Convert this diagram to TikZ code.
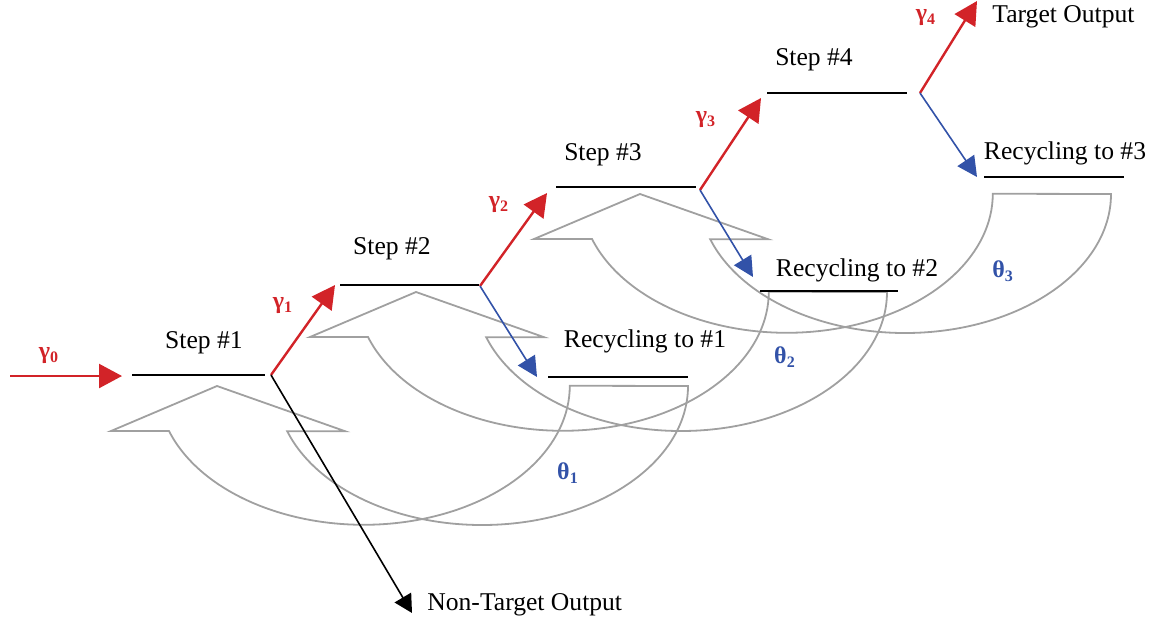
\documentclass[tikz,border=0pt]{standalone}
\usepackage{fontspec}
\setmainfont{Liberation Serif}
\usetikzlibrary{arrows.meta}

\definecolor{gainred}{RGB}{210,35,40}
\definecolor{recblue}{RGB}{50,82,168}
\definecolor{loopgray}{RGB}{160,160,160}

\tikzset{
  stage/.style={black, line width=1pt},
  gain/.style={gainred, line width=1.2pt, -{Triangle[length=11.5pt, width=12pt]}},
  recycled/.style={recblue, line width=0.8pt, -{Triangle[length=10pt, width=10pt]}},
  loss/.style={black, line width=0.8pt, -{Triangle[length=9pt, width=9.5pt]}},
  txt/.style={font=\fontsize{12.8}{15}\selectfont, inner sep=0pt, anchor=base},
  gamma/.style={font=\fontsize{12}{14}\selectfont\bfseries, text=gainred, inner sep=0pt},
  theta/.style={font=\fontsize{12}{14}\selectfont\bfseries, text=recblue, inner sep=0pt},
  recycle/.pic={
    \draw [loopgray, line width=0.9pt, line join=miter]
      ( 324, 0 ) arc [start angle=0, end angle=161, x radius=206, y radius=139]
      -- ++( 58, 0 ) -- ( -147, 0 ) -- ( -253, 45 ) -- ( -195, 45 )
      arc [start angle=161, end angle=0, x radius=206, y radius=139] -- cycle;
  }
}

\begin{document}
\begin{tikzpicture}[x=0.5pt, y=-0.5pt]
\useasboundingbox ( 0, 0 ) rectangle ( 1156, 623 );

% Recycling loops
\pic at ( 364, 386 ) {recycle};
\pic at ( 563, 292 ) {recycle};
\pic at ( 787, 194 ) {recycle};

% Steps
\draw [stage] ( 132, 375 ) coordinate (s1a) -- ( 265, 375 ) coordinate (s1b);
\node (step1) [txt] at ( 204, 348 ) {Step \#1};
\draw [stage] ( 340, 285 ) coordinate (s2a) -- ( 479, 285 ) coordinate (s2b);
\node (step2) [txt] at ( 392, 254 ) {Step \#2};
\draw [stage] ( 556, 187 ) coordinate (s3a) -- ( 696, 187 ) coordinate (s3b);
\node (step3) [txt] at ( 603, 160 ) {Step \#3};
\draw [stage] ( 767, 93 ) coordinate (s4a) -- ( 907, 93 ) coordinate (s4b);
\node (step4) [txt] at ( 814, 65 ) {Step \#4};

% Recycling levels
\draw [stage] ( 548, 377 ) coordinate (r1a) -- ( 688, 377 ) coordinate (r1b);
\node (rec1) [txt] at ( 645, 347 ) {Recycling to \#1};
\draw [stage] ( 760, 291 ) coordinate (r2a) -- ( 898, 291 ) coordinate (r2b);
\node (rec2) [txt] at ( 857, 276 ) {Recycling to \#2};
\draw [stage] ( 984, 177 ) coordinate (r3a) -- ( 1124, 177 ) coordinate (r3b);
\node (rec3) [txt] at ( 1065, 159 ) {Recycling to \#3};

% Junctions, input and outputs
\coordinate (j1) at ( 271, 375 );
\coordinate (j2) at ( 480, 286 );
\coordinate (j3) at ( 700, 190 );
\coordinate (j4) at ( 920, 93 );
\coordinate (in) at ( 10, 376 );
\coordinate (tgt) at ( 977, 1 );
\coordinate (nt) at ( 412, 613 );
\node (tout) [txt, anchor=base west] at ( 992, 22 ) {Target Output};
\node (ntout) [txt, anchor=base west] at ( 427, 610 ) {Non-Target Output};

% Forward transitions
\draw [gain] (in) -- ([xshift=-5pt, yshift=-0.5pt]s1a);
\draw [gain] (j1) -- ([xshift=-2.5pt]s2a);
\draw [gain] (j2) -- ([xshift=-4.5pt, yshift=-3pt]s3a);
\draw [gain] (j3) -- ([xshift=-3pt, yshift=-2.5pt]s4a);
\draw [gain] (j4) -- (tgt);

% Recycling transitions
\draw [recycled] (j2) -- ([xshift=-5.5pt]r1a);
\draw [recycled] (j3) -- ([xshift=-3.5pt, yshift=7pt]r2a);
\draw [recycled] (j4) -- ([xshift=-3.5pt]r3a);

% Non-target output
\draw [loss] (j1) -- (nt);

% Rates
\node (g0) [gamma] at ( 49, 356 ) {γ\textsubscript{0}};
\node (g1) [gamma] at ( 283, 306 ) {γ\textsubscript{1}};
\node (g2) [gamma] at ( 499, 205 ) {γ\textsubscript{2}};
\node (g3) [gamma] at ( 706, 120 ) {γ\textsubscript{3}};
\node (g4) [gamma] at ( 926, 18 ) {γ\textsubscript{4}};
\node (t1) [theta] at ( 568, 473 ) {θ\textsubscript{1}};
\node (t2) [theta] at ( 785, 357 ) {θ\textsubscript{2}};
\node (t3) [theta] at ( 1003, 271 ) {θ\textsubscript{3}};

\end{tikzpicture}
\end{document}
